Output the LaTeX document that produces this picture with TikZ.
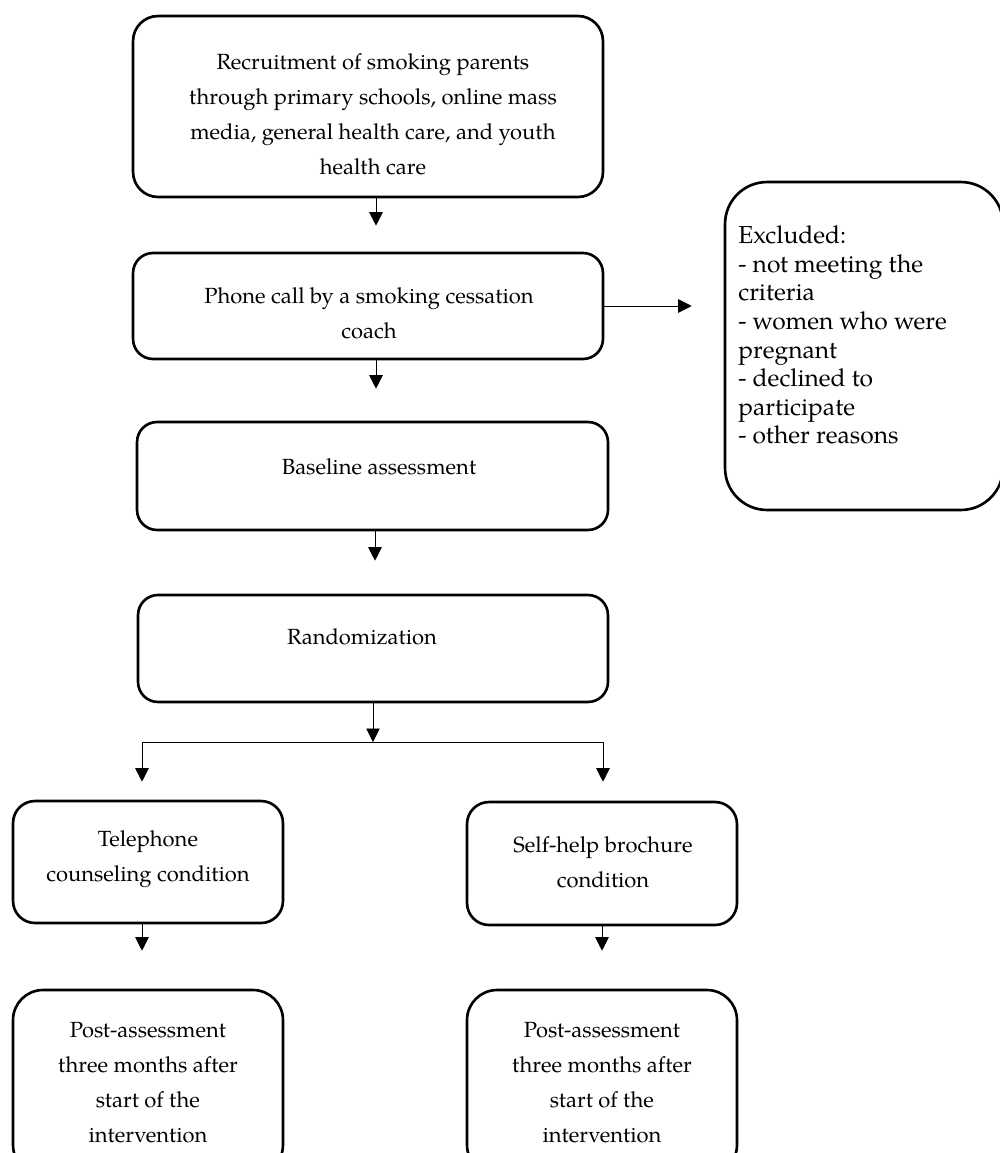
\documentclass[tikz,border=0pt]{standalone}
\usepackage{fontspec}
\setmainfont{TeX Gyre Pagella}
\usetikzlibrary{arrows.meta}
\begin{document}
\begin{tikzpicture}[x=0.02cm,y=-0.02cm,
  box/.style={draw,line width=1.5pt,inner sep=0pt,rectangle},
  txt/.style={inner sep=0pt,align=center,font=\fontsize{12.5}{19.9}\selectfont},
  extxt/.style={inner sep=0pt,align=left,anchor=west,font=\fontsize{14}{16.3}\selectfont},
  arr/.style={line width=0.5pt,-{Triangle[length=0.27cm,width=0.27cm]}},
  ln/.style={line width=0.5pt}]
\useasboundingbox (0,0) rectangle (1000,1153);
% boxes
\node[box,rounded corners=0.5cm,minimum width=9.4cm,minimum height=3.62cm] (b1) at (368,106.5) {};
\node[box,rounded corners=0.4cm,minimum width=9.4cm,minimum height=2.12cm] (b2) at (368,306) {};
\node[box,rounded corners=0.4cm,minimum width=9.42cm,minimum height=2.16cm] (b3) at (372.5,476) {};
\node[box,rounded corners=0.4cm,minimum width=9.4cm,minimum height=2.14cm] (b4) at (373,648.5) {};
\node[box,rounded corners=0.44cm,minimum width=5.4cm,minimum height=2.44cm] (b5l) at (148,862) {};
\node[box,rounded corners=0.44cm,minimum width=5.4cm,minimum height=2.46cm] (b5r) at (602,863.5) {};
\node[box,rounded corners=0.6cm,minimum width=5.4cm,minimum height=3.7cm] (b6l) at (148,1082.5) {};
\node[box,rounded corners=0.6cm,minimum width=5.4cm,minimum height=3.7cm] (b6r) at (602,1082.5) {};
\node[box,rounded corners=0.84cm,minimum width=5.56cm,minimum height=6.56cm] (ex) at (864,346) {};
% texts
\node[txt] (t1) at (373,114) {Recruitment of smoking parents\\through primary schools, online mass\\media, general health care, and youth\\health care};
\node[txt] (t2) at (369,313) {Phone call by a smoking cessation\\coach};
\node[txt] (t3) at (379,467) {Baseline assessment};
\node[txt] (t4) at (362,637) {Randomization};
\node[txt] (t5l) at (148,859) {Telephone\\counseling condition};
\node[txt] (t5r) at (603,862) {Self-help brochure\\condition};
\node[txt] (t6l) at (148,1083) {Post-assessment\\three months after\\start of the\\intervention};
\node[txt] (t6r) at (602,1083) {Post-assessment\\three months after\\start of the\\intervention};
\node[extxt] (tex) at (738,335) {Excluded:\\- not meeting the\\criteria\\- women who were\\pregnant\\- declined to\\participate\\- other reasons};
% connectors
\coordinate (c1) at (376,197);
\coordinate (c2) at (376,359);
\coordinate (c3) at (375,530);
\coordinate (j) at (373,742);
\coordinate (jl) at (142,742);
\coordinate (jr) at (603,742);
\draw[arr,shorten >=0.52cm] (c1) -- (c1 |- b2.north);
\draw[arr,shorten >=0.64cm] (c2) -- (c2 |- b3.north);
\draw[arr,shorten >=0.66cm] (c3) -- (c3 |- b4.north);
\draw[arr] (b4.south) -- (j);
\draw[ln] (jl) -- (jr);
\draw[arr,shorten >=0.36cm] (jl) -- (jl |- b5l.north);
\draw[arr,shorten >=0.38cm] (jr) -- (jr |- b5r.north);
\draw[arr,shorten >=0.76cm] (b5l.south -| jl) -- (jl |- b6l.north);
\draw[arr,shorten >=0.76cm] (b5r.south) -- (b5r.south |- b6r.north);
\draw[arr,shorten >=0.64cm] (b2.east) -- (b2.east -| ex.west);
\end{tikzpicture}
\end{document}
